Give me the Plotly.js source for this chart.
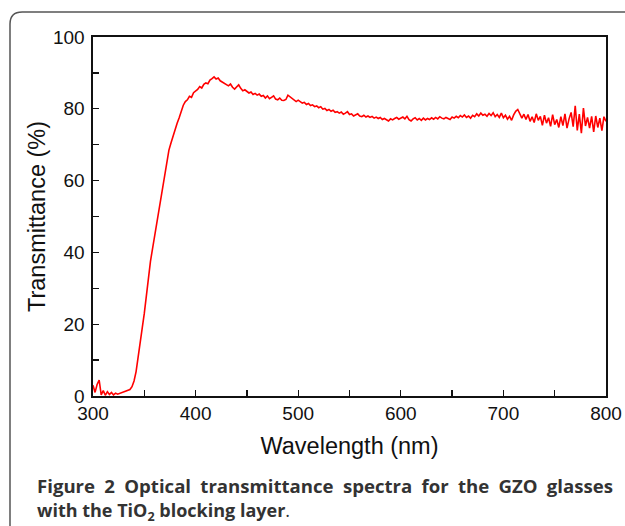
<!DOCTYPE html>
<html>
<head>
<meta charset="utf-8">
<script src="https://cdn.plot.ly/plotly-3.0.1.min.js"></script>
<style>html,body{margin:0;padding:0;background:#fff;}#chart{width:625px;height:526px;}</style>
</head>
<body>
<div id="chart"></div>
<script>
var wavelength = [300,302,304,306,308,310,312,314,316,318,320,322,324,326,328,330,332,334,336,338,340,342,344,346,348,350,352,354,356,358,360,362,364,366,368,370,372,374,376,378,380,382,384,386,388,390,392,394,396,398,400,402,404,406,408,410,412,414,416,418,420,422,424,426,428,430,432,434,436,438,440,442,444,446,448,450,452,454,456,458,460,462,464,466,468,470,472,474,476,478,480,482,484,486,488,490,492,494,496,498,500,502,504,506,508,510,512,514,516,518,520,522,524,526,528,530,532,534,536,538,540,542,544,546,548,550,552,554,556,558,560,562,564,566,568,570,572,574,576,578,580,582,584,586,588,590,592,594,596,598,600,602,604,606,608,610,612,614,616,618,620,622,624,626,628,630,632,634,636,638,640,642,644,646,648,650,652,654,656,658,660,662,664,666,668,670,672,674,676,678,680,682,684,686,688,690,692,694,696,698,700,702,704,706,708,710,712,714,716,718,720,722,724,726,728,730,732,734,736,738,740,742,744,746,748,750,752,754,756,758,760,762,764,766,768,770,772,774,776,778,780,782,784,786,788,790,792,794,796,798,800];
var transmittance = [3.0,1.0,3.2,4.4,0.3,1.5,0.2,1.2,0.4,1.0,0.3,0.8,0.5,0.7,0.9,1.0,1.2,1.4,1.8,2.6,4.2,6.8,10.5,15.0,19.0,23.0,28.0,33.5,37.5,41.0,44.5,47.5,51.0,55.0,59.0,62.0,66.0,68.5,70.5,72.5,74.5,76.0,77.5,79.5,81.0,82.0,82.5,83.5,83.2,84.5,85.0,85.4,86.2,85.8,86.8,87.2,87.0,88.0,88.4,88.9,88.3,88.6,87.8,87.5,87.0,86.8,86.4,86.9,86.0,85.5,86.2,86.7,85.7,85.0,85.3,84.9,84.4,84.7,84.0,84.3,83.8,84.1,83.5,83.7,83.0,83.6,82.8,83.2,83.6,82.7,82.5,83.0,82.4,82.3,82.6,83.8,83.3,82.8,82.5,82.0,82.4,82.1,81.6,81.8,81.2,81.5,80.9,81.1,80.6,80.8,80.3,80.6,79.9,80.1,79.5,79.8,79.3,79.6,79.0,79.2,78.8,79.1,78.5,78.8,79.2,78.4,78.6,78.0,78.3,78.6,78.0,77.8,78.2,77.7,78.0,77.6,77.9,77.4,77.7,77.3,77.6,77.0,77.3,76.9,76.6,77.2,76.9,77.3,77.6,77.1,77.4,77.7,77.2,77.9,77.0,76.6,77.2,77.5,76.9,77.3,76.8,77.4,76.9,77.3,77.0,77.5,77.1,77.6,77.2,77.8,77.4,77.2,77.6,77.3,77.0,77.7,77.4,77.9,77.5,78.1,77.7,78.3,77.6,78.0,77.4,78.2,77.8,78.6,78.0,78.8,78.2,78.5,77.9,78.7,78.1,78.9,77.8,78.4,77.6,78.8,77.5,78.2,77.1,77.9,76.8,78.3,79.3,79.8,78.6,77.4,78.5,77.0,78.4,76.5,77.8,76.2,78.6,76.8,77.9,75.4,78.2,76.0,77.5,75.1,78.4,75.6,77.0,74.8,77.8,75.3,78.6,74.6,77.2,79.0,75.0,80.8,74.0,78.5,73.2,80.2,75.2,77.6,74.6,77.9,73.6,78.0,74.8,77.4,73.9,77.8,76.5];
var xTicks = [300,400,500,600,700,800];
var yTicks = [0,20,40,60,80,100];
var captionWords = ['Figure','2','Optical','transmittance','spectra','for','the','GZO','glasses'];
var captionLine2 = '<b>with the TiO<sub>2</sub> blocking layer</b>.';

var trace = {
  x: wavelength, y: transmittance, type: 'scatter', mode: 'lines',
  line: {color: '#ff0000', width: 1.6}, hoverinfo: 'skip'
};

var annots = [
  {xref: 'paper', yref: 'paper', x: (36 - 93) / 513, y: (396 - 485) / 359,
   xanchor: 'left', yanchor: 'middle', showarrow: false, borderpad: 0,
   text: '<b>' + captionWords.join('&#8194;') + '</b>',
   font: {family: 'Open Sans, sans-serif', size: 18.6, color: '#333'}},
  {xref: 'paper', yref: 'paper', x: (36 - 93) / 513, y: (396 - 511) / 359,
   xanchor: 'left', yanchor: 'middle', showarrow: false, borderpad: 0,
   text: captionLine2,
   font: {family: 'Open Sans, sans-serif', size: 18, color: '#333'}}
];

var axisFont = {family: 'Liberation Sans, Arial, sans-serif', size: 19, color: '#111'};
var titleFont = {family: 'Liberation Sans, Arial, sans-serif', size: 23.5, color: '#111'};
var layout = {
  width: 625, height: 526,
  margin: {l: 93, r: 19, t: 37, b: 130},
  paper_bgcolor: '#fff', plot_bgcolor: '#fff',
  showlegend: false,
  xaxis: {
    range: [300, 800], tickvals: xTicks, ticktext: xTicks.map(String),
    ticks: 'inside', ticklen: 6, tickwidth: 1.3, tickcolor: '#111',
    minor: {dtick: 50, ticks: 'inside', ticklen: 6, tickwidth: 1.3, tickcolor: '#111', showgrid: false},
    showline: true, linecolor: '#111', linewidth: 1.6, mirror: true,
    showgrid: false, zeroline: false, tickfont: axisFont, automargin: false,
    title: {text: 'Wavelength (nm)', font: titleFont, standoff: 14}
  },
  yaxis: {
    range: [0, 100], tickvals: yTicks, ticktext: yTicks.map(String),
    ticks: 'inside', ticklen: 6, tickwidth: 1.3, tickcolor: '#111',
    minor: {dtick: 10, ticks: 'inside', ticklen: 6, tickwidth: 1.3, tickcolor: '#111', showgrid: false},
    showline: true, linecolor: '#111', linewidth: 1.6, mirror: true,
    showgrid: false, zeroline: false, tickfont: axisFont, ticklabelstandoff: 3, automargin: false,
    title: {text: 'Transmittance (%)', font: titleFont, standoff: 0}
  },
  shapes: [{
    type: 'path', xref: 'paper', yref: 'paper',
    path: 'M -0.1618,-0.45 L -0.1618,1.036 Q -0.1618,1.0696 -0.138,1.0696 L 1.12,1.0696',
    line: {color: '#555', width: 1.5}
  }],
  annotations: annots
};
Plotly.newPlot('chart', [trace], layout, {staticPlot: true, displayModeBar: false});
</script>
</body>
</html>
